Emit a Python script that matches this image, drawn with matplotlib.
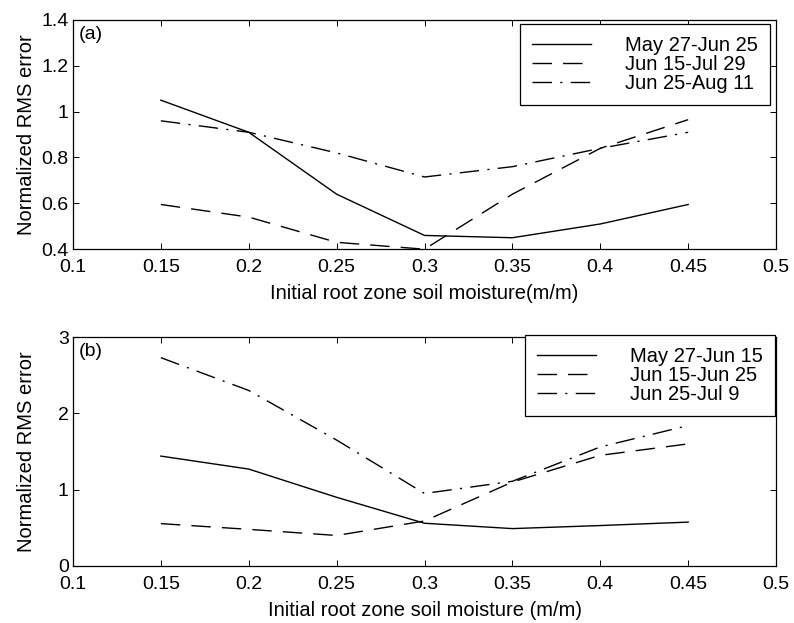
#!/usr/bin/env python3
"""Normalized RMS error vs initial root zone soil moisture, two panels."""

import matplotlib

matplotlib.use("Agg")
import matplotlib.pyplot as plt

plt.rcParams["font.family"] = ["Liberation Sans", "DejaVu Sans"]
plt.rcParams["lines.scale_dashes"] = False

moisture = [0.15, 0.20, 0.25, 0.30, 0.35, 0.40, 0.45]

# panel (a)
labels_a = ["May 27-Jun 25", "Jun 15-Jul 29", "Jun 25-Aug 11"]
rms_a_1 = [1.05, 0.91, 0.64, 0.46, 0.45, 0.51, 0.595]
rms_a_2 = [0.595, 0.54, 0.43, 0.40, 0.64, 0.84, 0.965]
rms_a_3 = [0.96, 0.91, 0.82, 0.715, 0.76, 0.84, 0.91]

# panel (b)
labels_b = ["May 27-Jun 15", "Jun 15-Jun 25", "Jun 25-Jul 9"]
rms_b_1 = [1.44, 1.27, 0.90, 0.56, 0.49, 0.53, 0.575]
rms_b_2 = [0.555, 0.48, 0.40, 0.59, 1.10, 1.45, 1.60]
rms_b_3 = [2.73, 2.30, 1.65, 0.95, 1.11, 1.56, 1.84]

x_ticks = [0.1, 0.15, 0.2, 0.25, 0.3, 0.35, 0.4, 0.45, 0.5]
x_ticklabels = ["0.1", "0.15", "0.2", "0.25", "0.3", "0.35", "0.4", "0.45", "0.5"]
y_ticks_a = [0.4, 0.6, 0.8, 1.0, 1.2, 1.4]
y_ticklabels_a = ["0.4", "0.6", "0.8", "1", "1.2", "1.4"]
y_ticks_b = [0, 1, 2, 3]
y_ticklabels_b = ["0", "1", "2", "3"]

DASHED = (0, (14, 8))
DASHDOT = (0, (14, 6, 1.5, 6))
FS = 14


def style_axes(ax, yticks, yticklabels, ylim):
    ax.set_xlim(0.1, 0.5)
    ax.set_ylim(*ylim)
    ax.set_xticks(x_ticks)
    ax.set_xticklabels(x_ticklabels)
    ax.set_yticks(yticks)
    ax.set_yticklabels(yticklabels)
    ax.tick_params(direction="in", top=True, right=True, length=4, width=0.7,
                   labelsize=FS)
    ax.tick_params(axis="x", pad=7)
    ax.tick_params(axis="y", pad=3)
    for sp in ax.spines.values():
        sp.set_linewidth(0.9)
    ax.set_ylabel("Normalized RMS error", fontsize=FS + 0.5)
    ax.yaxis.set_label_coords(-0.052, 0.5)


def draw_panel(ax, series, labels, tag, legend_top):
    styles = ["-", DASHED, DASHDOT]
    for ys, lab, ls in zip(series, labels, styles):
        ax.plot(moisture, ys, color="black", linewidth=1.0, linestyle=ls, label=lab)
    ax.text(0.008, 0.975, tag, transform=ax.transAxes, ha="left", va="top", fontsize=FS)
    leg = ax.legend(loc="upper right", bbox_to_anchor=legend_top, borderaxespad=0,
                    fontsize=FS + 0.5, frameon=True, fancybox=False, framealpha=1,
                    edgecolor="black", handlelength=2.9, handletextpad=1.7,
                    labelspacing=0.0, borderpad=0.6)
    leg.get_frame().set_linewidth(0.9)


fig = plt.figure(figsize=(7.94, 6.23), dpi=100)
ax_a = fig.add_axes([0.0919, 0.600, 0.8855, 0.368])
ax_b = fig.add_axes([0.0919, 0.0915, 0.8855, 0.3675])

draw_panel(ax_a, [rms_a_1, rms_a_2, rms_a_3], labels_a, "(a)", (0.9915, 0.9825))
style_axes(ax_a, y_ticks_a, y_ticklabels_a, (0.4, 1.4))
ax_a.set_xlabel("Initial root zone soil moisture(m/m)", fontsize=FS + 0.5, labelpad=6)

draw_panel(ax_b, [rms_b_1, rms_b_2, rms_b_3], labels_b, "(b)", (0.9986, 1.008))
style_axes(ax_b, y_ticks_b, y_ticklabels_b, (0, 3))
ax_b.set_xlabel("Initial root zone soil moisture (m/m)", fontsize=FS + 0.5, labelpad=6)

fig.savefig("out.png", dpi=100)
